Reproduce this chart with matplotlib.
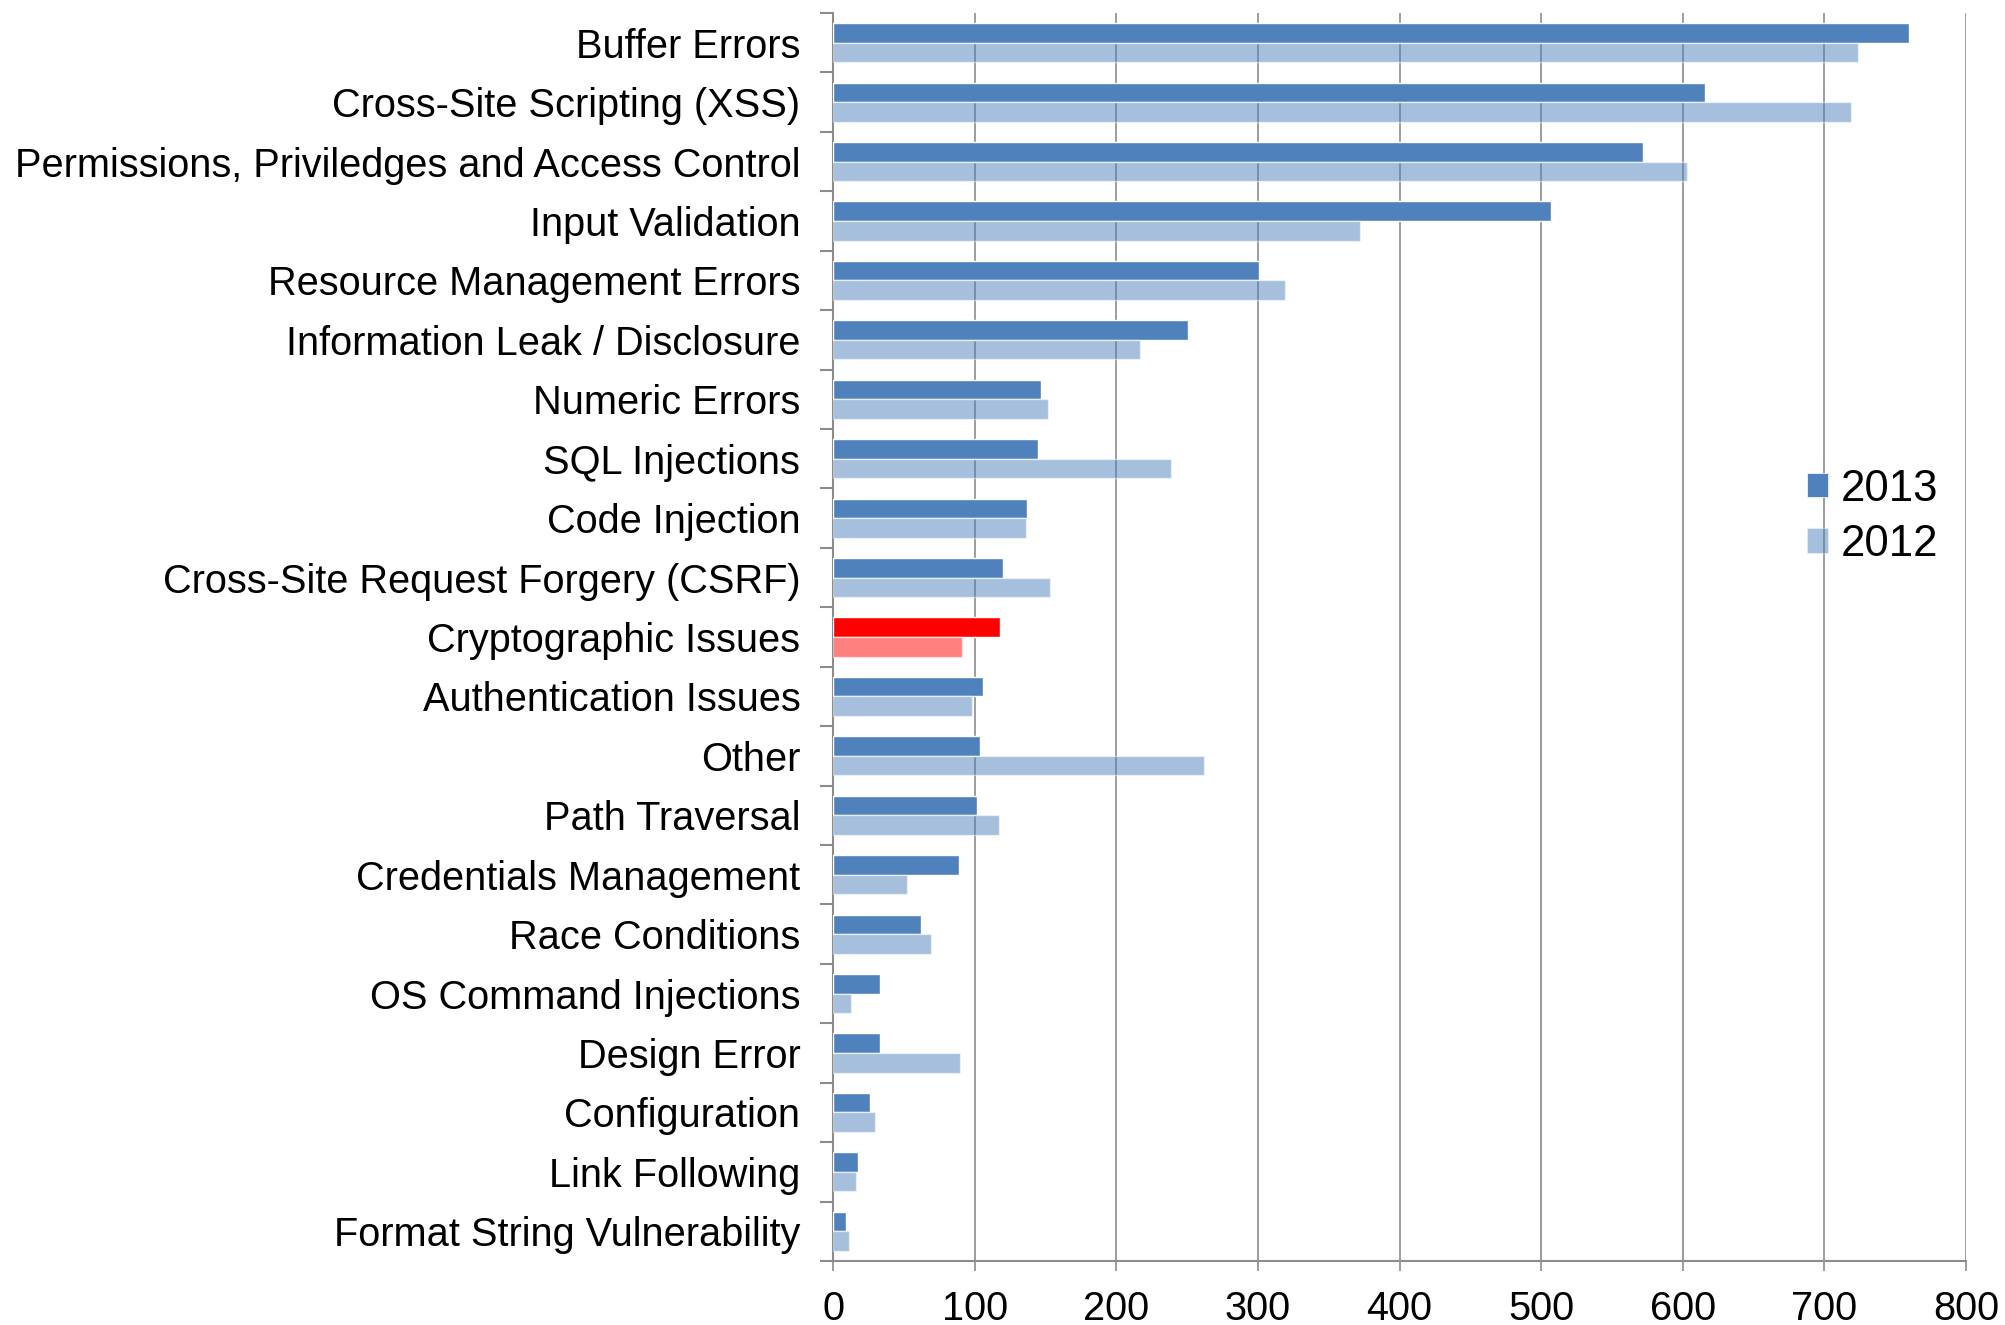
import matplotlib
matplotlib.use("Agg")
import matplotlib.pyplot as plt
from matplotlib.patches import Patch
import numpy as np

categorias = [
    "Buffer Errors",
    "Cross-Site Scripting (XSS)",
    "Permissions, Priviledges and Access Control",
    "Input Validation",
    "Resource Management Errors",
    "Information Leak / Disclosure",
    "Numeric Errors",
    "SQL Injections",
    "Code Injection",
    "Cross-Site Request Forgery (CSRF)",
    "Cryptographic Issues",
    "Authentication Issues",
    "Other",
    "Path Traversal",
    "Credentials Management",
    "Race Conditions",
    "OS Command Injections",
    "Design Error",
    "Configuration",
    "Link Following",
    "Format String Vulnerability",
]
valores_2013 = [760, 616, 572, 507, 301, 251, 147, 145, 137, 120, 118,
                106, 104, 102, 89, 62, 33, 33, 26, 18, 9]
valores_2012 = [724, 719, 603, 372, 319, 217, 152, 239, 136, 153, 91,
                98, 262, 117, 52, 69, 13, 90, 30, 16, 11]
destaque = "Cryptographic Issues"
x_ticks = [0, 100, 200, 300, 400, 500, 600, 700, 800]

azul = "#4F81BD"
vermelho = "#FF0000"
cinza = "#8C8C8C"

plt.rcParams["font.family"] = ["Liberation Sans", "DejaVu Sans"]

fig = plt.figure(figsize=(20.05, 13.25), dpi=100)
ax = fig.add_axes([833 / 2005, 64 / 1325, (1966 - 833) / 2005, (1312 - 64) / 1325])

y = np.arange(len(categorias))
altura = 0.33
cores = [vermelho if c == destaque else azul for c in categorias]

ax.barh(y - 0.165, valores_2013, height=altura, color=cores,
        edgecolor="white", linewidth=1, zorder=3)
ax.barh(y + 0.165, valores_2012, height=altura, color=cores, alpha=0.5,
        edgecolor="white", linewidth=1, zorder=3)

ax.set_xlim(0, 800)
ax.set_ylim(len(categorias) - 0.5, -0.5)

# grade vertical
ax.set_xticks(x_ticks)
ax.set_xticklabels([str(v) for v in x_ticks], fontsize=28.6)
ax.grid(axis="x", color=cinza, linewidth=1.2, zorder=0)
ax.set_axisbelow(True)

# rotulos no centro, marcas nas fronteiras
ax.set_yticks(y)
ax.set_yticklabels(categorias, fontsize=28.6)
ax.set_yticks(np.arange(len(categorias) + 1) - 0.5, minor=True)
ax.tick_params(axis="y", which="major", length=0, pad=23.5)
ax.tick_params(axis="y", which="minor", length=9.5, width=1.5, color=cinza)
ax.tick_params(axis="x", length=7.5, width=1.2, color=cinza, pad=13.5)

for lado in ["top", "right"]:
    ax.spines[lado].set_visible(False)
for lado in ["left", "bottom"]:
    ax.spines[lado].set_color(cinza)
    ax.spines[lado].set_linewidth(1.5)

handles = [Patch(facecolor=azul, edgecolor="white", linewidth=0.5, label="2013"),
           Patch(facecolor=azul, alpha=0.5, edgecolor="white", linewidth=0.5, label="2012")]
fig.legend(handles=handles, loc="center left", bbox_to_anchor=(1807 / 2005, 808 / 1325),
           frameon=False, fontsize=31.5, handlelength=0.48, handleheight=0.48,
           handletextpad=0.3, labelspacing=0.33, borderpad=0, borderaxespad=0)

fig.savefig("out.png", dpi=100)
